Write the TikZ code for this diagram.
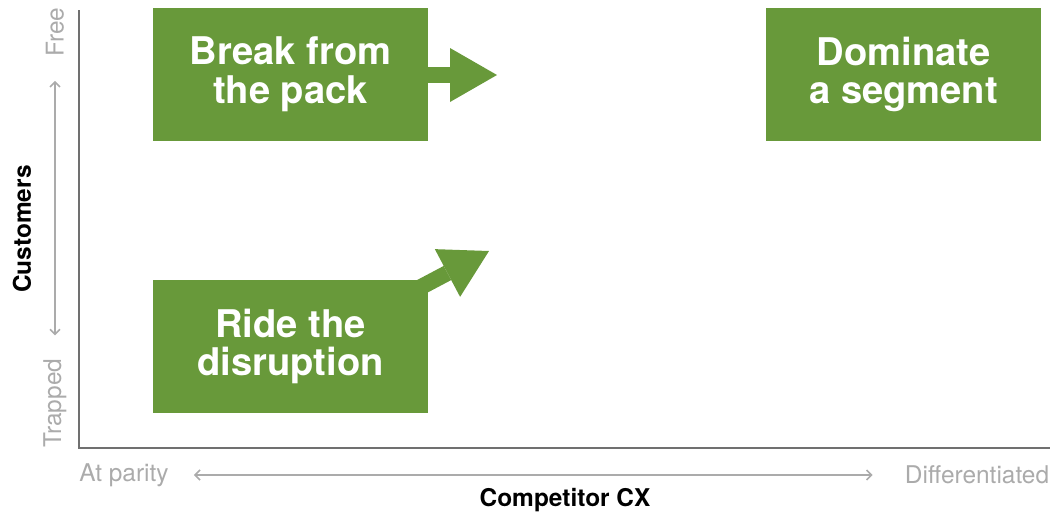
\documentclass[tikz,border=0pt]{standalone}
\usepackage{fontspec}
\setmainfont{TeX Gyre Heros}
\usepackage{tikz}
\usetikzlibrary{arrows.meta, positioning, calc}
\definecolor{cxgreen}{HTML}{68993A}
\definecolor{axisgray}{HTML}{707070}
\definecolor{labelgray}{HTML}{ABABAB}

\begin{document}
\begin{tikzpicture}[
    x=0.2mm, y=-0.2mm,
    quad/.style={rectangle, fill=cxgreen, minimum width=55mm, minimum height=26.6mm, inner sep=0pt, text=white, align=center, font=\bfseries\fontsize{21.7}{22}\selectfont},
    push/.style={line width=3.2mm, color=cxgreen, -{Triangle[length=9.4mm, width=10.8mm, line width=0pt]}},
    tick/.style={font=\fontsize{13.9}{15}\selectfont, text=labelgray, inner sep=0pt},
    axtitle/.style={font=\bfseries\fontsize{13.9}{15}\selectfont, inner sep=0pt},
    scale arrow/.style={{Straight Barb[length=1mm, width=2mm]}-{Straight Barb[length=1mm, width=2mm]}, line width=0.3mm, color=labelgray}
]
\useasboundingbox (0,0) rectangle (1052,514);

% Axes
\coordinate (origin) at (79,448);
\draw[axisgray, line width=0.4mm] (79,10) -- (origin) -- (1050,448);

% Quadrants
\node[quad] (pack) at (290.5,74.5) {Break from\\the pack};
\node[quad] (dominate) at (903.5,74.5) {Dominate\\a segment};
\node[quad] (ride) at (290.5,346.5) {Ride the\\disruption};

% Moves
\coordinate (packtip) at (497,75);
\coordinate (ridetip) at (489,251);
\draw[push] (pack.east |- packtip) -- (packtip);
\draw[push] ($(ride.north east)+(-18,13)$) -- (ridetip);

% Vertical scale
\node[tick, rotate=90] (free) at (55,32) {Free};
\node[tick, rotate=90] (trapped) at (55,403) {Trapped};
\node[axtitle, rotate=90] (customers) at (22,229) {Customers};
\draw[scale arrow, shorten <=4.8mm, shorten >=4.6mm] (free.west) -- (trapped.east);

% Horizontal scale
\node[tick] (parity) at (124,475) {At parity};
\node[tick] (diff) at (977,475) {Differentiated};
\node[axtitle] (compcx) at (565,500) {Competitor CX};
\draw[scale arrow, shorten <=5mm, shorten >=6.4mm] (parity.east) -- (diff.west);

\end{tikzpicture}
\end{document}
